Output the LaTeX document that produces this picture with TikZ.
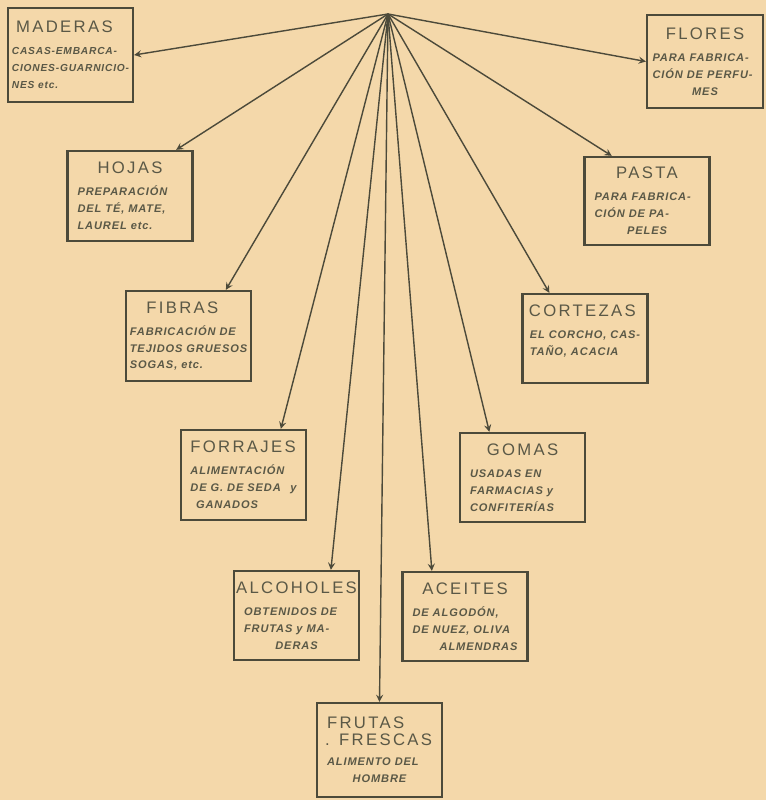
\documentclass[tikz,border=0pt]{standalone}
\usepackage{fontspec}
\setmainfont{Liberation Sans}
\newfontfamily\ttlfont[LetterSpace=14]{Liberation Sans}
\newfontfamily\txtfont[LetterSpace=8]{Liberation Sans}
\usepackage{xcolor}
\usepackage{tikz}
\definecolor{papel}{HTML}{F4D8AA}
\definecolor{tinta}{HTML}{4C4A3A}
\definecolor{letra}{HTML}{5A5846}
\newcommand{\ttl}[2][c]{\makebox[21mm][#1]{\ttlfont\upshape\mdseries\fontsize{9.5}{11}\selectfont #2}}
\newcommand{\ctr}[1]{\makebox[21mm][c]{#1}}

\begin{document}
\begin{tikzpicture}[x=0.02cm, y=-0.02cm, >=stealth,
  caja/.style={draw=tinta, line width=1.3pt, minimum width=2.5cm, minimum height=1.8cm,
    align=left, inner sep=1pt, text=letra,
    font=\txtfont\bfseries\itshape\fontsize{6.3}{9.6}\selectfont},
  flecha/.style={->, draw=tinta, line width=0.8pt}]
\useasboundingbox[fill=papel] (0,0) rectangle (766,800);
\coordinate (centro) at (388,14);
\node[caja, minimum height=1.88cm, font=\txtfont\bfseries\itshape\fontsize{5.8}{9.6}\selectfont] (maderas) at (70.5,55) {\ttl{MADERAS}\\[3pt] CASAS-EMBARCA-\\ CIONES-GUARNICIO-\\ NES etc.};
\node[caja, minimum height=1.86cm, minimum width=2.32cm] (flores) at (705,61.5) {\ttl{FLORES}\\[3pt] PARA FABRICA-\\ CIÓN DE PERFU-\\ \ctr{MES}};
\node[caja] (hojas) at (130,196) {\ttl{HOJAS}\\[3pt] PREPARACIÓN\\ DEL TÉ, MATE,\\ LAUREL etc.};
\node[caja, minimum height=1.76cm] (pasta) at (647,201) {\ttl{PASTA}\\[3pt] PARA FABRICA-\\ CIÓN DE PA-\\ \ctr{PELES}};
\node[caja] (fibras) at (188.5,336) {\ttl{FIBRAS}\\[3pt] FABRICACIÓN DE\\ TEJIDOS GRUESOS\\ SOGAS, etc.};
\node[caja, minimum height=1.78cm] (cortezas) at (585,338.5) {\ttl{CORTEZAS}\\[3pt] EL CORCHO, CAS-\\ TAÑO, ACACIA\\ ~};
\node[caja] (forrajes) at (243.5,475) {\ttl{FORRAJES}\\[3pt] ALIMENTACIÓN\\ DE G. DE SEDA \enspace y\\ \enspace GANADOS};
\node[caja, minimum height=1.78cm] (gomas) at (522.5,477.5) {\ttl{GOMAS}\\[3pt] USADAS EN\\ FARMACIAS y\\ CONFITERÍAS};
\node[caja, minimum height=1.78cm] (alcoholes) at (296.5,615.5) {\ttl{ALCOHOLES}\\[3pt] OBTENIDOS DE\\ FRUTAS y MA-\\ \ctr{DERAS}};
\node[caja, minimum height=1.78cm] (aceites) at (465,616.5) {\ttl{ACEITES}\\[3pt] DE ALGODÓN,\\ DE NUEZ, OLIVA\\ \makebox[21mm][r]{ALMENDRAS}};
\node[caja, minimum height=1.88cm] (frutas) at (379.5,750) {\ttl[l]{FRUTAS}\\ \ttl[r]{. FRESCAS}\\[2pt] ALIMENTO DEL\\ \ctr{HOMBRE}};
% flechas desde el centro
\foreach \dest in {maderas.east, flores.west, hojas.45, pasta.128, fibras.51, cortezas.128,
  forrajes.51, gomas.126, alcoholes.53, aceites.126, frutas.north}
  \draw[flecha] (centro) -- (\dest);
\end{tikzpicture}
\end{document}
